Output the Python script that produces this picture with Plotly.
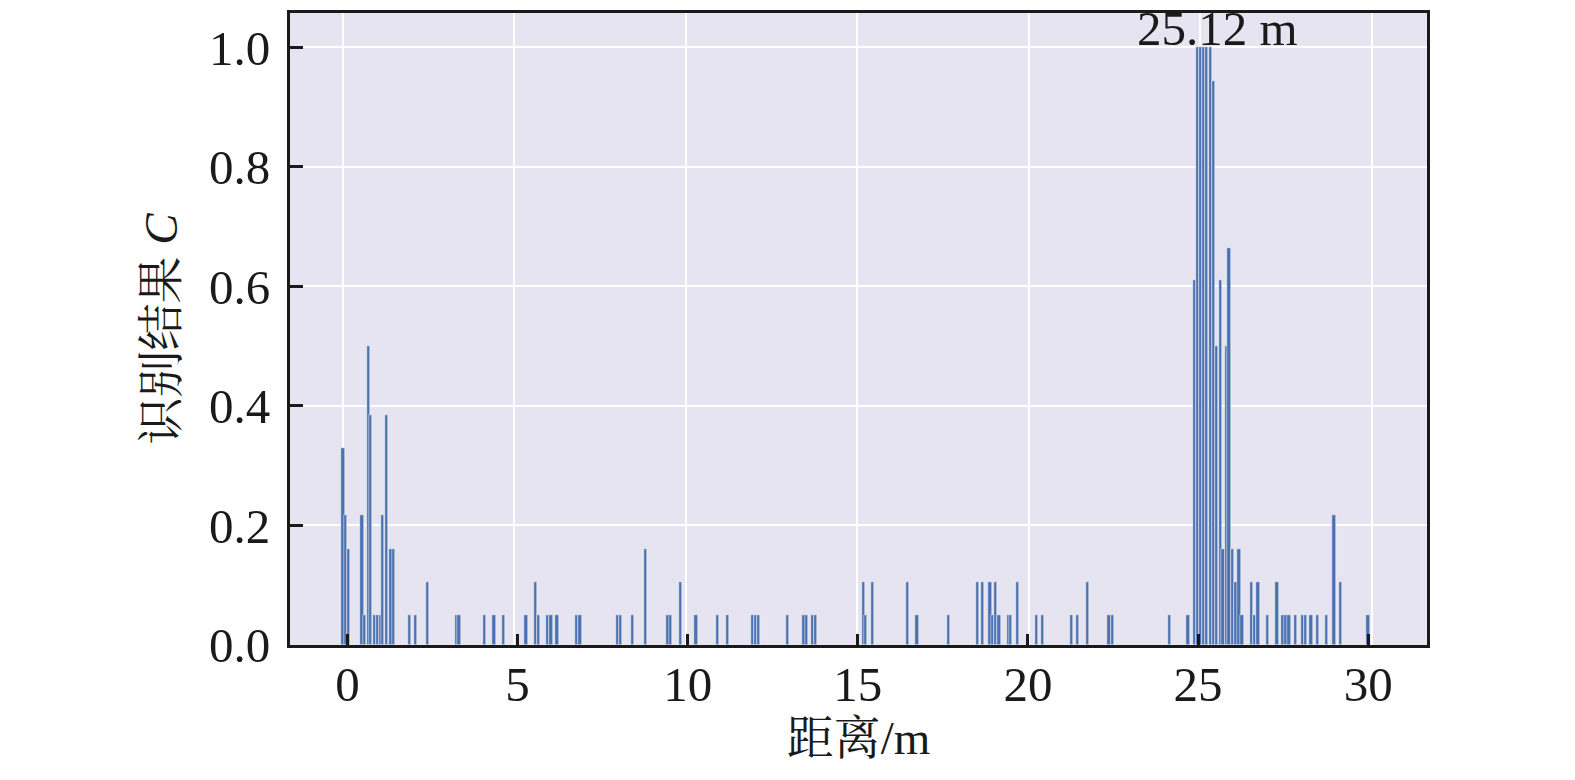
import plotly.graph_objects as go

# Distance (m) of each bar and its recognition result C
distance = [
    0.01, 0.08, 0.17, 0.56, 0.63, 0.75, 0.82, 0.92, 1.02, 1.10, 1.17, 1.28, 1.41, 1.49,
    1.94, 2.13, 2.48,
    3.32, 3.39, 4.14, 4.41, 4.69, 5.34, 5.61, 5.71, 5.98, 6.07, 6.25, 6.82, 6.92,
    8.01, 8.10, 8.45, 8.82, 9.48, 9.56, 9.84, 10.30, 10.92,
    11.21, 11.95, 12.03, 12.13, 12.97, 13.45, 13.53, 13.69, 13.79,
    15.18, 15.25, 15.44, 16.46, 16.74, 17.66, 18.50,
    18.66, 18.87, 18.94, 19.04, 19.13, 19.41, 19.47, 19.68, 20.23, 20.41,
    21.25, 21.42, 21.71, 22.34, 22.44, 24.10, 24.64,
    24.84, 24.93, 25.01, 25.09, 25.19, 25.29, 25.38, 25.48, 25.59, 25.66,
    25.76, 25.84, 25.94, 26.04, 26.13, 26.22,
    26.50, 26.58, 26.68, 26.96, 27.24, 27.41, 27.50, 27.59, 27.78, 27.98,
    28.06, 28.23, 28.42, 28.69, 28.90, 29.08, 29.89,
]
result_c = [
    0.33, 0.217, 0.161, 0.217, 0.05, 0.5, 0.385, 0.05, 0.05, 0.05, 0.217, 0.385, 0.161, 0.161,
    0.05, 0.05, 0.105,
    0.05, 0.05, 0.05, 0.05, 0.05, 0.05, 0.105, 0.05, 0.05, 0.05, 0.05, 0.05, 0.05,
    0.05, 0.05, 0.05, 0.161, 0.05, 0.05, 0.105, 0.05, 0.05,
    0.05, 0.05, 0.05, 0.05, 0.05, 0.05, 0.05, 0.05, 0.05,
    0.105, 0.05, 0.105, 0.105, 0.05, 0.05, 0.105,
    0.105, 0.105, 0.05, 0.105, 0.05, 0.05, 0.05, 0.105, 0.05, 0.05,
    0.05, 0.05, 0.105, 0.05, 0.05, 0.05, 0.05,
    0.61, 1.0, 1.0, 1.0, 1.0, 1.0, 0.944, 0.5, 0.61, 0.161,
    0.5, 0.665, 0.161, 0.105, 0.161, 0.05,
    0.105, 0.05, 0.105, 0.05, 0.105, 0.05, 0.05, 0.05, 0.05, 0.05,
    0.05, 0.05, 0.05, 0.05, 0.217, 0.105, 0.05,
]

x_ticks = [0, 5, 10, 15, 20, 25, 30]
x_tick_labels = ["0", "5", "10", "15", "20", "25", "30"]
y_ticks = [0.0, 0.2, 0.4, 0.6, 0.8, 1.0]
y_tick_labels = ["0.0", "0.2", "0.4", "0.6", "0.8", "1.0"]
peak_label = "25.12 m"
peak_x = 25.49
peak_y = 1.0

FONT = "Liberation Serif, Noto Serif CJK SC, Noto Sans CJK SC, serif"
TXT = "#1a1a1a"

fig = go.Figure()
fig.add_trace(go.Bar(
    x=distance, y=result_c, width=0.095,
    marker=dict(color="#4c72b0", line=dict(color="white", width=0.5)),
    xaxis="x", yaxis="y", showlegend=False, hoverinfo="x+y",
))
# invisible companion trace so the tick/label axis (x2) is drawn
fig.add_trace(go.Scatter(
    x=distance, y=result_c, mode="markers", marker=dict(opacity=0, size=1),
    xaxis="x2", yaxis="y", showlegend=False, hoverinfo="skip",
))

fig.add_annotation(
    x=peak_x, y=peak_y, xref="x", yref="y", text=peak_label,
    showarrow=False, yanchor="bottom", xanchor="center", yshift=-10,
    borderpad=0,
    font=dict(family=FONT, size=49, color=TXT),
)

fig.update_layout(
    width=1567, height=772,
    margin=dict(l=282, r=148, t=2, b=135),
    paper_bgcolor="white",
    plot_bgcolor="#e5e4f0",
    bargap=0,
    font=dict(family=FONT, size=48, color=TXT),
    xaxis=dict(
        range=[-1.536, 31.61], tickvals=x_ticks, showticklabels=False, ticks="",
        showgrid=True, gridcolor="white", gridwidth=1.6, zeroline=False,
        showline=True, linecolor="#1a1a1a", linewidth=3, mirror=True,
    ),
    xaxis2=dict(
        overlaying="x", anchor="y", side="bottom",
        range=[-1.69, 31.73], tickvals=x_ticks, ticktext=x_tick_labels,
        ticks="inside", ticklen=11, tickwidth=3, tickcolor="#1a1a1a",
        showgrid=False, zeroline=False, showline=False,
        tickfont=dict(family=FONT, size=49, color=TXT),
        ticklabelstandoff=6,
        title=dict(text="距离/m", font=dict(family=FONT, size=47, color=TXT), standoff=10),
    ),
    yaxis=dict(
        range=[0, 1.0575], tickvals=y_ticks, ticktext=y_tick_labels,
        ticks="inside", ticklen=13, tickwidth=3, tickcolor="#1a1a1a",
        showgrid=True, gridcolor="white", gridwidth=1.6, zeroline=False,
        showline=True, linecolor="#1a1a1a", linewidth=3, mirror=True,
        tickfont=dict(family=FONT, size=49, color=TXT),
        ticklabelstandoff=7,
        title=dict(text="识别结果 <i>C</i>", font=dict(family=FONT, size=47, color=TXT), standoff=17),
    ),
)

fig.write_html("out.html")
